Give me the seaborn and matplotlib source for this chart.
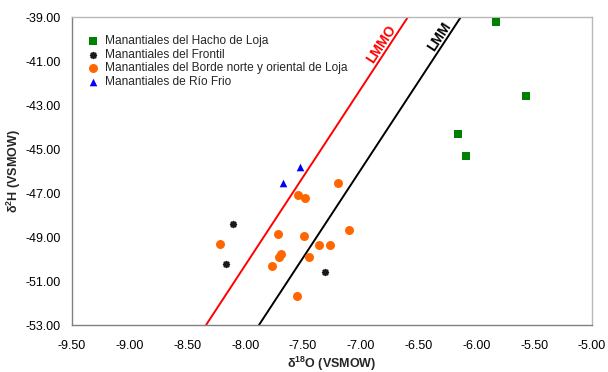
import matplotlib
matplotlib.use("Agg")
import matplotlib.pyplot as plt
import seaborn as sns
import pandas as pd

# ---- data ----
hacho_x = [-5.83, -5.57, -6.16, -6.09]
hacho_y = [-39.23, -42.59, -44.32, -45.32]

frontil_x = [-8.11, -8.17, -7.31]
frontil_y = [-48.41, -50.23, -50.59]

borde_x = [-8.22, -7.72, -7.54, -7.48, -7.49, -7.69, -7.71, -7.77, -7.55,
           -7.45, -7.36, -7.27, -7.20, -7.10]
borde_y = [-49.32, -48.86, -47.09, -47.23, -48.95, -49.77, -49.91, -50.32,
           -51.68, -49.91, -49.36, -49.36, -46.55, -48.68]

riofrio_x = [-7.53, -7.675]
riofrio_y = [-45.82, -46.55]

# meteoric water lines (end points)
lmmo_x = [-8.34, -6.593]
lmmo_y = [-53.0, -39.0]
lmm_x = [-7.882, -6.135]
lmm_y = [-53.0, -39.0]

groups = ["Manantiales del Hacho de Loja",
          "Manantiales del Frontil",
          "Manantiales del Borde norte y oriental de Loja",
          "Manantiales de Río Frio"]

xticks = [-9.5, -9.0, -8.5, -8.0, -7.5, -7.0, -6.5, -6.0, -5.5, -5.0]
yticks = [-53, -51, -49, -47, -45, -43, -41, -39]

sns.set_theme(style="white")
plt.rcParams["font.family"] = ["Liberation Sans", "DejaVu Sans"]
plt.rcParams["mathtext.fontset"] = "custom"
plt.rcParams["mathtext.rm"] = "Liberation Sans"
plt.rcParams["mathtext.bf"] = "Liberation Sans:bold"
plt.rcParams["mathtext.default"] = "bf"

fig = plt.figure(figsize=(6.08, 3.72), dpi=100)
ax = fig.add_axes([72/608, 1-325/372, 520/608, 308/372])

df = pd.concat([
    pd.DataFrame({"x": hacho_x, "y": hacho_y, "g": groups[0]}),
    pd.DataFrame({"x": frontil_x, "y": frontil_y, "g": groups[1]}),
    pd.DataFrame({"x": borde_x, "y": borde_y, "g": groups[2]}),
    pd.DataFrame({"x": riofrio_x, "y": riofrio_y, "g": groups[3]}),
])

lines = pd.concat([
    pd.DataFrame({"x": lmmo_x, "y": lmmo_y, "l": "LMMO"}),
    pd.DataFrame({"x": lmm_x, "y": lmm_y, "l": "LMM"}),
])
sns.lineplot(data=lines, x="x", y="y", hue="l",
             palette={"LMMO": "#FF0000", "LMM": "#000000"},
             lw=1.4, ax=ax, legend=False, sort=False, zorder=2)

styles = {
    groups[0]: dict(marker="s", color="#008000", s=36, lw=0),
    groups[1]: dict(marker=(8, 2, 0), color="#1a1a1a", s=16, lw=1.3),
    groups[2]: dict(marker="o", color="#FF6600", s=42, lw=0),
    groups[3]: dict(marker="^", color="#0000FF", s=30, lw=0),
}
for g in groups:
    st = styles[g]
    sns.scatterplot(data=df[df.g == g], x="x", y="y", ax=ax, label=g,
                    marker=st["marker"], color=st["color"], s=st["s"],
                    linewidth=st["lw"], edgecolor=st["color"], zorder=3)

ax.set_xlim(-9.5, -5.0)
ax.set_ylim(-53, -39)
ax.set_xticks(xticks)
ax.set_yticks(yticks)
ax.set_xticklabels([f"{v:.2f}" for v in xticks])
ax.set_yticklabels([f"{v:.2f}" for v in yticks])
ax.tick_params(axis="both", labelsize=9, colors="#000000", length=3,
               width=0.8, direction="out")
ax.tick_params(axis="x", pad=8, color="#c0c0c0")
ax.tick_params(axis="y", pad=5, color="#808080")

for side in ["left", "bottom"]:
    ax.spines[side].set_color("#808080")
    ax.spines[side].set_linewidth(1.0)
for side in ["top", "right"]:
    ax.spines[side].set_color("#b8b8b8")
    ax.spines[side].set_linewidth(1.0)

ax.set_xlabel("δ$^{18}$O (VSMOW)", fontsize=9, fontweight="bold", labelpad=1.5)
ax.set_ylabel("δ$^{2}$H (VSMOW)", fontsize=9, fontweight="bold", labelpad=2)

ax.text(-6.768, -40.4, "LMMO", color="#FF0000", fontsize=10, fontweight="bold",
        rotation=56.7, rotation_mode="anchor", ha="center", va="bottom")
ax.text(-6.27, -40.08, "LMM", color="#000000", fontsize=10, fontweight="bold",
        rotation=56.7, rotation_mode="anchor", ha="center", va="bottom")

leg = ax.legend(loc="upper left", bbox_to_anchor=(0.029, 0.94), frameon=False,
                fontsize=8.6, handlelength=1.0, handletextpad=0.5,
                labelspacing=0.12, borderaxespad=0.0, borderpad=0.0)

fig.savefig("out.png", dpi=100)
